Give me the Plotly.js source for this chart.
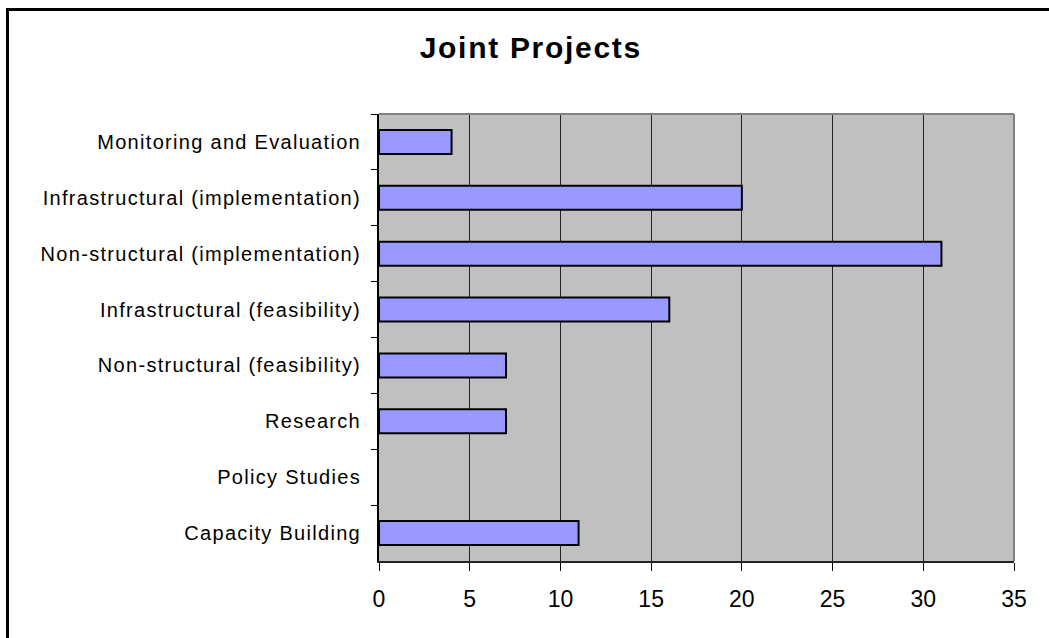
<!DOCTYPE html>
<html>
<head>
<meta charset="utf-8">
<script src="https://cdn.plot.ly/plotly-3.0.1.min.js"></script>
<style>
  html, body { margin: 0; padding: 0; background: #ffffff; }
  #frame {
    position: absolute; left: 6px; top: 8px; width: 1100px; height: 700px;
    border-left: 3px solid #000; border-top: 3px solid #000;
  }
  #chart { position: absolute; left: 0; top: 0; width: 1049px; height: 638px; }
  #chart .ytick text { letter-spacing: 1.3px; }
  #chart .gtitle { letter-spacing: 1.7px; }
</style>
</head>
<body>
<div id="frame"></div>
<div id="chart"></div>
<script>
// Project categories, listed top to bottom
const categories = [
  'Monitoring and Evaluation',
  'Infrastructural (implementation)',
  'Non-structural (implementation)',
  'Infrastructural (feasibility)',
  'Non-structural (feasibility)',
  'Research',
  'Policy Studies',
  'Capacity Building'
];
// Number of joint projects in each category
const projectCounts = [4, 20, 31, 16, 7, 7, 0, 11];
const xTickValues = [0, 5, 10, 15, 20, 25, 30, 35];

const trace = {
  type: 'bar',
  orientation: 'h',
  y: categories,
  x: projectCounts,
  marker: {
    color: '#9999FF',
    // empty categories get no outline
    line: { color: '#000000', width: projectCounts.map(v => (v > 0 ? 2 : 0)) }
  },
  hoverinfo: 'x+y'
};

const layout = {
  width: 1049,
  height: 638,
  margin: { l: 379, r: 35, t: 114, b: 77, pad: 0 },
  paper_bgcolor: 'rgba(0,0,0,0)',
  plot_bgcolor: '#C0C0C0',
  showlegend: false,
  bargap: 0.57,
  title: {
    text: '<b>Joint Projects</b>',
    font: { family: 'Liberation Sans, Arial, sans-serif', size: 30, color: '#000' },
    xref: 'container', x: 0.506, xanchor: 'center',
    yref: 'container', y: 0.942, yanchor: 'top'
  },
  xaxis: {
    range: [0, 35],
    tickvals: xTickValues,
    ticks: 'outside', ticklen: 8, tickwidth: 1, tickcolor: '#000',
    showgrid: true, gridcolor: '#222222', gridwidth: 1,
    zeroline: false,
    showline: true, linecolor: '#222', linewidth: 2,
    ticklabelstandoff: 8,
    tickfont: { family: 'Liberation Sans, Arial, sans-serif', size: 23, color: '#000' },
    fixedrange: true
  },
  yaxis: {
    type: 'category',
    autorange: 'reversed',
    tickson: 'boundaries',
    ticks: 'outside', ticklen: 6, tickwidth: 1, tickcolor: '#000',
    showgrid: false,
    zeroline: false,
    showline: true, linecolor: '#000', linewidth: 2,
    ticklabelstandoff: 12,
    tickfont: { family: 'Liberation Sans, Arial, sans-serif', size: 20, color: '#000' },
    fixedrange: true
  },
  shapes: [
    { type: 'line', xref: 'paper', yref: 'paper', x0: 0, x1: 1, y0: 1, y1: 1,
      line: { color: '#808080', width: 2 } },
    { type: 'line', xref: 'paper', yref: 'paper', x0: 1, x1: 1, y0: 0, y1: 1,
      line: { color: '#808080', width: 2 } }
  ]
};

Plotly.newPlot('chart', [trace], layout, { displayModeBar: false, staticPlot: true });
</script>
</body>
</html>
